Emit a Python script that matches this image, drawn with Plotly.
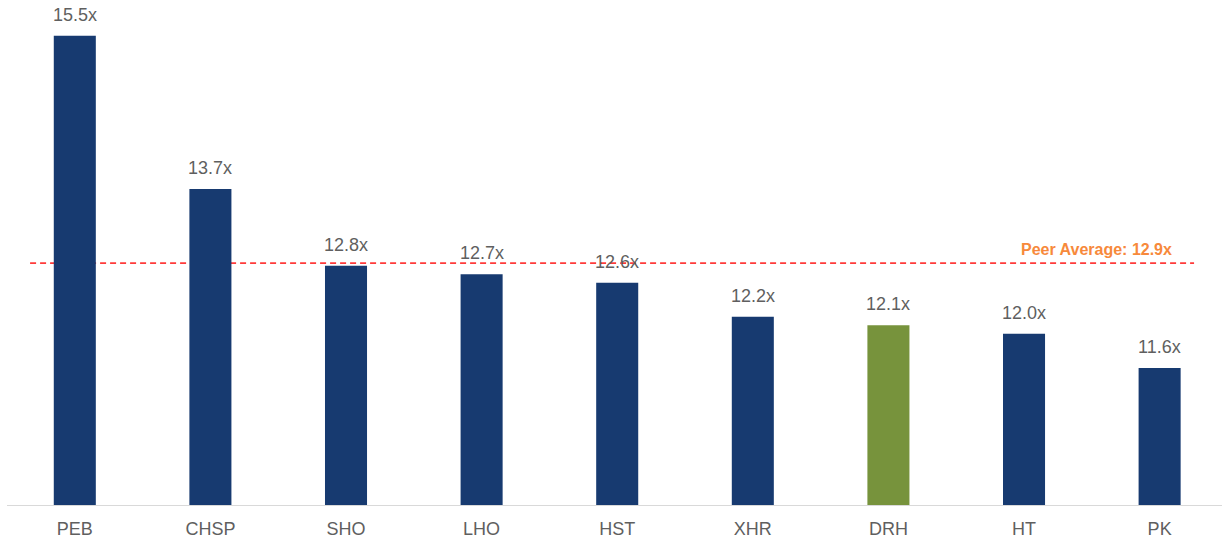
import plotly.graph_objects as go

categories = ["PEB", "CHSP", "SHO", "LHO", "HST", "XHR", "DRH", "HT", "PK"]
values = [15.5, 13.7, 12.8, 12.7, 12.6, 12.2, 12.1, 12.0, 11.6]
value_labels = ["15.5x", "13.7x", "12.8x", "12.7x", "12.6x", "12.2x", "12.1x", "12.0x", "11.6x"]
highlight = "DRH"
peer_average_line = 12.83  # position of the dashed line
peer_label = "Peer Average: 12.9x"

navy = "#173A70"
green = "#77933C"
colors = [green if c == highlight else navy for c in categories]
font_family = "Liberation Sans, Arial"

fig = go.Figure()
fig.add_trace(go.Bar(
    x=categories, y=values, marker=dict(color=colors, line=dict(width=0)),
    width=0.31, hoverinfo="skip",
))

for c, v, t in zip(categories, values, value_labels):
    fig.add_annotation(x=c, y=v, text=t, showarrow=False, yanchor="bottom", yshift=9,
                       font=dict(family=font_family, size=18, color="#5F5F5F"))

fig.add_shape(type="line", xref="paper", yref="y", x0=0.019, x1=0.977,
              y0=peer_average_line, y1=peer_average_line, layer="below",
              line=dict(color="#FF3A3A", width=1.6, dash="6px,4px"))
fig.add_annotation(xref="paper", yref="y", x=0.9605, y=peer_average_line,
                   text="<b>" + peer_label + "</b>",
                   showarrow=False, xanchor="right", yanchor="bottom", yshift=3,
                   font=dict(family=font_family, size=16, color="#F7893B"))

fig.update_layout(
    width=1222, height=541,
    margin=dict(l=7, r=0, t=0, b=36),
    plot_bgcolor="white", paper_bgcolor="white",
    showlegend=False,
    xaxis=dict(range=[-0.5, 8.46], showgrid=False, zeroline=False, showline=True,
               linecolor="#D9D9D9", linewidth=1, ticks="", ticklabelstandoff=7,
               tickfont=dict(family=font_family, size=18, color="#5F5F5F")),
    yaxis=dict(range=[9.99, 15.92], visible=False, showgrid=False, zeroline=False),
)

fig.write_html("out.html")
